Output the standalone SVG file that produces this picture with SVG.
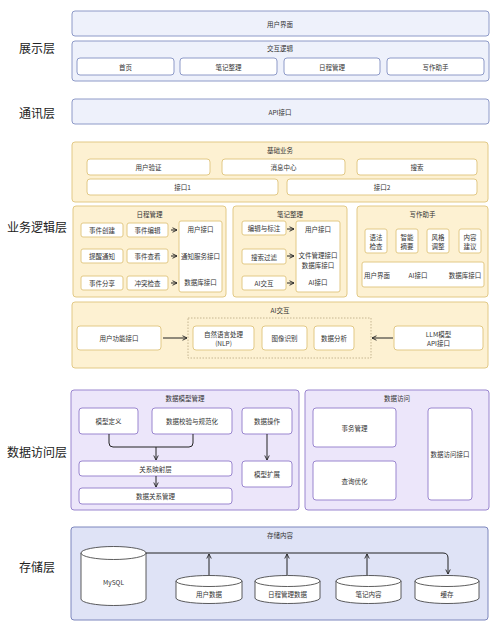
<svg xmlns="http://www.w3.org/2000/svg" width="500" height="632" viewBox="0 0 500 632">
<defs>
<style>
text{font-family:"Noto Sans CJK SC","Noto Sans",sans-serif;fill:#333;text-anchor:middle;dominant-baseline:central}
.lbl{font-size:12px;fill:#222}
.t{font-size:6.5px}
.pl{fill:#eef1fb;stroke:#8e9ac8;stroke-width:1}
.pi{fill:#fff;stroke:#8e9ac8;stroke-width:1}
.bl{fill:#fdf1d2;stroke:#e2c986;stroke-width:1}
.bi{fill:#fff;stroke:#e2c986;stroke-width:1}
.dl{fill:#ece6fa;stroke:#9a86cf;stroke-width:1}
.di{fill:#fff;stroke:#9a86cf;stroke-width:1}
.sl{fill:#dfe3f6;stroke:#7d86bd;stroke-width:1}
.si{fill:#fff;stroke:#333;stroke-width:0.8}
.c{fill:none;stroke:#222;stroke-width:1}
</style>
<marker id="ah" viewBox="0 0 8 8" refX="7" refY="4" markerWidth="6" markerHeight="6" orient="auto" markerUnits="userSpaceOnUse">
<path d="M1,1 L7,4 L1,7" fill="none" stroke="#222" stroke-width="1.2"/>
</marker>
</defs>
<rect width="500" height="632" fill="#fff"/>

<g id="layer-labels">
<text class="lbl" x="37" y="47">展示层</text>
<text class="lbl" x="37" y="112">通讯层</text>
<text class="lbl" x="37" y="226">业务逻辑层</text>
<text class="lbl" x="37" y="451">数据访问层</text>
<text class="lbl" x="37" y="566">存储层</text>
</g>

<g id="ui">
<rect class="pl" x="72" y="11" width="417" height="25" rx="3"/>
<text class="t" x="280" y="24">用户界面</text>
</g>
<g id="interaction">
<rect class="pl" x="72" y="41" width="417" height="40" rx="3"/>
<text class="t" x="280" y="48">交互逻辑</text>
</g>
<g id="home"><rect class="pi" x="77" y="58" width="97" height="17" rx="3"/><text class="t" x="125.5" y="66.5">首页</text></g>
<g id="note-ui"><rect class="pi" x="180" y="58" width="97" height="17" rx="3"/><text class="t" x="228.5" y="66.5">笔记整理</text></g>
<g id="schedule-ui"><rect class="pi" x="284" y="58" width="96" height="17" rx="3"/><text class="t" x="332" y="66.5">日程管理</text></g>
<g id="writing-ui"><rect class="pi" x="387" y="58" width="97" height="17" rx="3"/><text class="t" x="435.5" y="66.5">写作助手</text></g>

<g id="api">
<rect class="pl" x="72" y="99" width="417" height="25" rx="3"/>
<text class="t" x="280" y="112">API接口</text>
</g>

<g id="basic">
<rect class="bl" x="72" y="142" width="416" height="60" rx="3"/>
<text class="t" x="280" y="150">基础业务</text>
</g>
<g id="auth"><rect class="bi" x="87" y="159" width="123" height="16" rx="3"/><text class="t" x="148.5" y="167">用户验证</text></g>
<g id="msg"><rect class="bi" x="222" y="159" width="123" height="16" rx="3"/><text class="t" x="283.5" y="167">消息中心</text></g>
<g id="search"><rect class="bi" x="357" y="159" width="120" height="16" rx="3"/><text class="t" x="417" y="167">搜索</text></g>
<g id="if1"><rect class="bi" x="87" y="179" width="191" height="16" rx="3"/><text class="t" x="182.5" y="187">接口1</text></g>
<g id="if2"><rect class="bi" x="287" y="179" width="190" height="16" rx="3"/><text class="t" x="382" y="187">接口2</text></g>

<g id="schedule">
<rect class="bl" x="73" y="206" width="153" height="91" rx="3"/>
<text class="t" x="149.5" y="214">日程管理</text>
</g>
<g id="s-create"><rect class="bi" x="81" y="223" width="42" height="14" rx="2"/><text class="t" x="102" y="230">事件创建</text></g>
<g id="s-edit"><rect class="bi" x="127" y="223" width="41" height="14" rx="2"/><text class="t" x="147.5" y="230">事件编辑</text></g>
<g id="s-remind"><rect class="bi" x="81" y="249" width="42" height="14" rx="2"/><text class="t" x="102" y="256">提醒通知</text></g>
<g id="s-view"><rect class="bi" x="127" y="249" width="41" height="14" rx="2"/><text class="t" x="147.5" y="256">事件查看</text></g>
<g id="s-share"><rect class="bi" x="81" y="276" width="42" height="14" rx="2"/><text class="t" x="102" y="283">事件分享</text></g>
<g id="s-conflict"><rect class="bi" x="127" y="276" width="41" height="14" rx="2"/><text class="t" x="147.5" y="283">冲突检查</text></g>
<g id="s-if">
<rect class="bi" x="179" y="221" width="43" height="71" rx="2"/>
<text class="t" x="200.5" y="229">用户接口</text>
<text class="t" x="200.5" y="256">通知服务接口</text>
<text class="t" x="200.5" y="282">数据库接口</text>
</g>

<g id="note">
<rect class="bl" x="233" y="206" width="114" height="91" rx="3"/>
<text class="t" x="290" y="214">笔记整理</text>
</g>
<g id="n-edit"><rect class="bi" x="242" y="221" width="44" height="14" rx="2"/><text class="t" x="264" y="228">编辑与标注</text></g>
<g id="n-filter"><rect class="bi" x="242" y="249" width="44" height="15" rx="2"/><text class="t" x="264" y="256.5">搜索过滤</text></g>
<g id="n-ai"><rect class="bi" x="242" y="276" width="44" height="14" rx="2"/><text class="t" x="264" y="283">AI交互</text></g>
<g id="n-if">
<rect class="bi" x="296" y="221" width="44" height="71" rx="2"/>
<text class="t" x="318" y="229">用户接口</text>
<text class="t" x="318" y="255">文件管理接口</text>
<text class="t" x="318" y="265">数据库接口</text>
<text class="t" x="318" y="282">AI接口</text>
</g>

<g id="writing">
<rect class="bl" x="357" y="206" width="131" height="91" rx="3"/>
<text class="t" x="422.5" y="214">写作助手</text>
</g>
<g id="w-grammar"><rect class="bi" x="365" y="229" width="22" height="24" rx="2"/><text class="t" x="376" y="236.5">语法</text><text class="t" x="376" y="245.5">检查</text></g>
<g id="w-summary"><rect class="bi" x="396" y="229" width="22" height="24" rx="2"/><text class="t" x="407" y="236.5">智能</text><text class="t" x="407" y="245.5">摘要</text></g>
<g id="w-style"><rect class="bi" x="427" y="229" width="22" height="24" rx="2"/><text class="t" x="438" y="236.5">风格</text><text class="t" x="438" y="245.5">调整</text></g>
<g id="w-suggest"><rect class="bi" x="459" y="229" width="22" height="24" rx="2"/><text class="t" x="470" y="236.5">内容</text><text class="t" x="470" y="245.5">建议</text></g>
<g id="w-if">
<rect class="bi" x="362" y="262" width="122" height="25" rx="2"/>
<text class="t" x="377" y="275">用户界面</text>
<text class="t" x="418" y="275">AI接口</text>
<text class="t" x="465" y="275">数据库接口</text>
</g>

<g id="ai">
<rect class="bl" x="72" y="302" width="416" height="66" rx="3"/>
<text class="t" x="280" y="310">AI交互</text>
</g>
<g id="ai-user"><rect class="bi" x="77" y="326" width="84" height="24" rx="3"/><text class="t" x="119" y="338">用户功能接口</text></g>
<g id="ai-core"><rect x="188" y="318" width="183" height="40" fill="none" stroke="#b8a880" stroke-width="0.8" stroke-dasharray="1.5,1.5"/></g>
<g id="ai-nlp"><rect class="bi" x="193" y="326" width="61" height="24" rx="3"/><text class="t" x="223.5" y="334">自然语言处理</text><text class="t" x="223.5" y="343">(NLP)</text></g>
<g id="ai-img"><rect class="bi" x="262" y="326" width="45" height="24" rx="3"/><text class="t" x="284.5" y="338">图像识别</text></g>
<g id="ai-data"><rect class="bi" x="314" y="326" width="40" height="24" rx="3"/><text class="t" x="334" y="338">数据分析</text></g>
<g id="ai-llm"><rect class="bi" x="394" y="326" width="89" height="24" rx="3"/><text class="t" x="438.5" y="334">LLM模型</text><text class="t" x="438.5" y="343">API接口</text></g>

<g id="dmm">
<rect class="dl" x="71" y="390" width="228" height="120" rx="3"/>
<text class="t" x="185" y="398">数据模型管理</text>
</g>
<g id="d-def"><rect class="di" x="79" y="408" width="59" height="26" rx="3"/><text class="t" x="108.5" y="421">模型定义</text></g>
<g id="d-valid"><rect class="di" x="152" y="408" width="80" height="26" rx="3"/><text class="t" x="192" y="421">数据校验与规范化</text></g>
<g id="d-op"><rect class="di" x="242" y="408" width="50" height="26" rx="3"/><text class="t" x="267" y="421">数据操作</text></g>
<g id="d-map"><rect class="di" x="79" y="461" width="153" height="15" rx="3"/><text class="t" x="155.5" y="468.5">关系映射层</text></g>
<g id="d-rel"><rect class="di" x="79" y="488" width="153" height="16" rx="3"/><text class="t" x="155.5" y="496">数据关系管理</text></g>
<g id="d-ext"><rect class="di" x="242" y="461" width="50" height="26" rx="3"/><text class="t" x="267" y="474">模型扩展</text></g>

<g id="da">
<rect class="dl" x="305" y="390" width="184" height="120" rx="3"/>
<text class="t" x="397" y="398">数据访问</text>
</g>
<g id="da-tx"><rect class="di" x="313" y="408" width="83" height="39" rx="3"/><text class="t" x="354.5" y="427.5">事务管理</text></g>
<g id="da-q"><rect class="di" x="313" y="461" width="83" height="39" rx="3"/><text class="t" x="354.5" y="480.5">查询优化</text></g>
<g id="da-if"><rect class="di" x="428" y="408" width="44" height="92" rx="3"/><text class="t" x="450" y="454">数据访问接口</text></g>

<g id="storage">
<rect class="sl" x="71" y="527" width="417" height="93" rx="3"/>
<text class="t" x="280" y="535">存储内容</text>
</g>
<g id="mysql">
<path class="si" d="M81,553 V599 A32.5,6.5 0 0 0 146,599 V553"/>
<ellipse class="si" cx="113.5" cy="553" rx="32.5" ry="6.5"/>
<text class="t" x="113.5" y="582">MySQL</text>
</g>
<g id="userdata">
<path class="si" d="M176,581 V598 A33,5.5 0 0 0 242,598 V581"/>
<ellipse class="si" cx="209" cy="581" rx="33" ry="5.5"/>
<text class="t" x="209" y="594">用户数据</text>
</g>
<g id="scheddata">
<path class="si" d="M255,581 V598 A32.5,5.5 0 0 0 320,598 V581"/>
<ellipse class="si" cx="287.5" cy="581" rx="32.5" ry="5.5"/>
<text class="t" x="287.5" y="594">日程管理数据</text>
</g>
<g id="notedata">
<path class="si" d="M336,581 V598 A32.5,5.5 0 0 0 401,598 V581"/>
<ellipse class="si" cx="368.5" cy="581" rx="32.5" ry="5.5"/>
<text class="t" x="368.5" y="594">笔记内容</text>
</g>
<g id="cache">
<path class="si" d="M415,581 V598 A32,5.5 0 0 0 479,598 V581"/>
<ellipse class="si" cx="447" cy="581" rx="32" ry="5.5"/>
<text class="t" x="447" y="594">缓存</text>
</g>

<g id="connectors">
<path class="c" d="M171,230 H177" marker-end="url(#ah)"/>
<path class="c" d="M171,256 H177" marker-end="url(#ah)"/>
<path class="c" d="M171,283 H177" marker-end="url(#ah)"/>
<path class="c" d="M287,229 H294" marker-end="url(#ah)"/>
<path class="c" d="M287,256 H294" marker-end="url(#ah)"/>
<path class="c" d="M287,283 H294" marker-end="url(#ah)"/>
<path class="c" d="M163,338 H187" marker-end="url(#ah)"/>
<path class="c" d="M393,338 H372" marker-end="url(#ah)"/>
<path class="c" d="M109,434 V443 Q109,447 113,447 H189 Q193,447 193,443 V434"/>
<path class="c" d="M156,447 V460" marker-end="url(#ah)"/>
<path class="c" d="M156,476 V487" marker-end="url(#ah)"/>
<path class="c" d="M267,434 V460" marker-end="url(#ah)"/>
<path class="c" d="M146,553 H443 Q448,553 448,558 V574" marker-end="url(#ah)"/>
<path class="c" d="M209,575 V554" marker-end="url(#ah)"/>
<path class="c" d="M287,575 V554" marker-end="url(#ah)"/>
<path class="c" d="M367,575 V554" marker-end="url(#ah)"/>
</g>
</svg>
